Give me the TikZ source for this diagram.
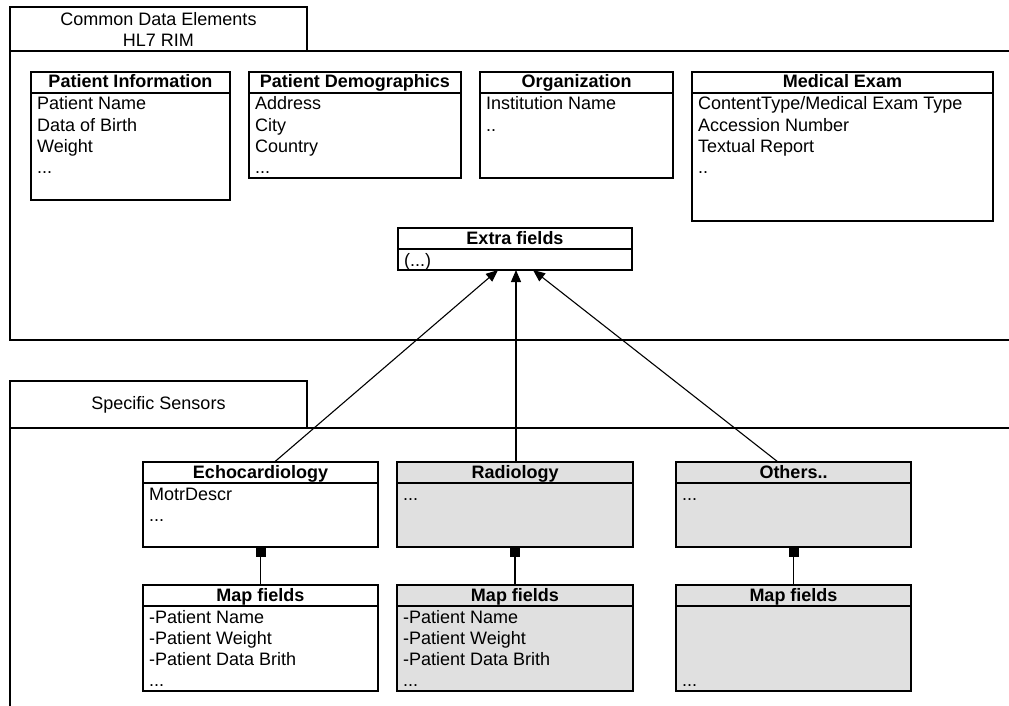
\documentclass[tikz,border=0pt]{standalone}
\usepackage{fontspec}
\setmainfont{Liberation Sans}
\usetikzlibrary{calc,arrows.meta}

\definecolor{shade}{RGB}{224,224,224}
\newcommand\basefont{\fontsize{18}{21}\selectfont}

\tikzset{
  clsbox/.style={draw, line width=1.3pt, rectangle, inner sep=0pt, outer sep=0pt, anchor=north west},
  clsline/.style={line width=1.3pt},
  clstitle/.style={anchor=base, inner sep=0pt, font=\basefont\bfseries},
  clsfield/.style={anchor=base west, inner sep=0pt, font=\basefont},
  tabbox/.style={draw, line width=1.2pt, rectangle, inner sep=0pt, outer sep=0pt, anchor=north west,
                 align=center, font=\basefont, minimum width=297pt},
  frame/.style={line width=1.2pt},
  inherit/.style={line width=1.1pt, -{Triangle[length=12pt,width=10pt]}},
  compose/.style={line width=1.1pt, {Square[length=10pt,width=10pt]}-},
}

% class box: name, x, y, width, height, title, fill colour
\newcommand\umlclass[7]{%
  \node[clsbox, fill=#7, minimum width=#4pt, minimum height=#5pt] (#1) at (#2,#3) {};
  \draw[clsline] ($(#1.north west)+(0,21)$) -- ($(#1.north east)+(0,21)$);
  \node[clstitle] (#1-title) at ($(#1.north)+(0,16)$) {#6};
}
% one field row of a class box: name, row number, text
\newcommand\umlfield[3]{%
  \node[clsfield] (#1-row#2) at ($(#1.north west)+(6,{38+21.2*(#2-1)})$) {#3};
}

\begin{document}
\begin{tikzpicture}[x=1pt,y=-1pt]
\useasboundingbox (0,0) rectangle (1009,706);

% ---- package: common data elements ----
\node[tabbox, minimum height=44pt] (cdetab) at (10,7) {Common Data Elements\\HL7 RIM};
\draw[frame] (cdetab.south west) -- (1009,51);
\draw[frame] (cdetab.south west) -- (10,340) -- (1009,340);

\umlclass{pinfo}{31}{72}{199}{128}{Patient Information}{white}
\umlfield{pinfo}{1}{Patient Name}
\umlfield{pinfo}{2}{Data of Birth}
\umlfield{pinfo}{3}{Weight}
\umlfield{pinfo}{4}{...}

\umlclass{pdemo}{249}{72}{212}{106}{Patient Demographics}{white}
\umlfield{pdemo}{1}{Address}
\umlfield{pdemo}{2}{City}
\umlfield{pdemo}{3}{Country}
\umlfield{pdemo}{4}{...}

\umlclass{org}{480}{72}{193}{106}{Organization}{white}
\umlfield{org}{1}{Institution Name}
\umlfield{org}{2}{..}

\umlclass{exam}{692}{72}{301}{149}{Medical Exam}{white}
\umlfield{exam}{1}{ContentType/Medical Exam Type}
\umlfield{exam}{2}{Accession Number}
\umlfield{exam}{3}{Textual Report}
\umlfield{exam}{4}{..}

\umlclass{extra}{398}{228}{234}{42}{Extra fields}{white}
\umlfield{extra}{1}{(...)}

% ---- package: specific sensors ----
\node[tabbox, minimum height=47pt] (senstab) at (10,381) {Specific Sensors};
\draw[frame] (senstab.south west) -- (1009,428);
\draw[frame] (senstab.south west) -- (10,706);

\umlclass{echo}{143}{462}{235}{85}{Echocardiology}{white}
\umlfield{echo}{1}{MotrDescr}
\umlfield{echo}{2}{...}

\umlclass{radio}{397}{462}{236}{85}{Radiology}{shade}
\umlfield{radio}{1}{...}

\umlclass{others}{676}{462}{235}{85}{Others..}{shade}
\umlfield{others}{1}{...}

\umlclass{mapa}{143}{585}{235}{106}{Map fields}{white}
\umlfield{mapa}{1}{-Patient Name}
\umlfield{mapa}{2}{-Patient Weight}
\umlfield{mapa}{3}{-Patient Data Brith}
\umlfield{mapa}{4}{...}

\umlclass{mapb}{397}{585}{236}{106}{Map fields}{shade}
\umlfield{mapb}{1}{-Patient Name}
\umlfield{mapb}{2}{-Patient Weight}
\umlfield{mapb}{3}{-Patient Data Brith}
\umlfield{mapb}{4}{...}

\umlclass{mapc}{676}{585}{235}{106}{Map fields}{shade}
\umlfield{mapc}{4}{...}

% ---- generalisations towards the extra fields ----
\draw[inherit] ($(echo.north)+(14,0)$) -- ($(extra.south)+(-17,0)$);
\draw[inherit] ($(radio.north)+(1,0)$) -- ($(extra.south)+(1,0)$);
\draw[inherit] ($(others.north)+(-15.5,0)$) -- ($(extra.south)+(18,0)$);

% ---- compositions with the field maps ----
\draw[compose] (echo.south) -- (mapa.north);
\draw[compose] (radio.south) -- (mapb.north);
\draw[compose] (others.south) -- (mapc.north);
\end{tikzpicture}
\end{document}
